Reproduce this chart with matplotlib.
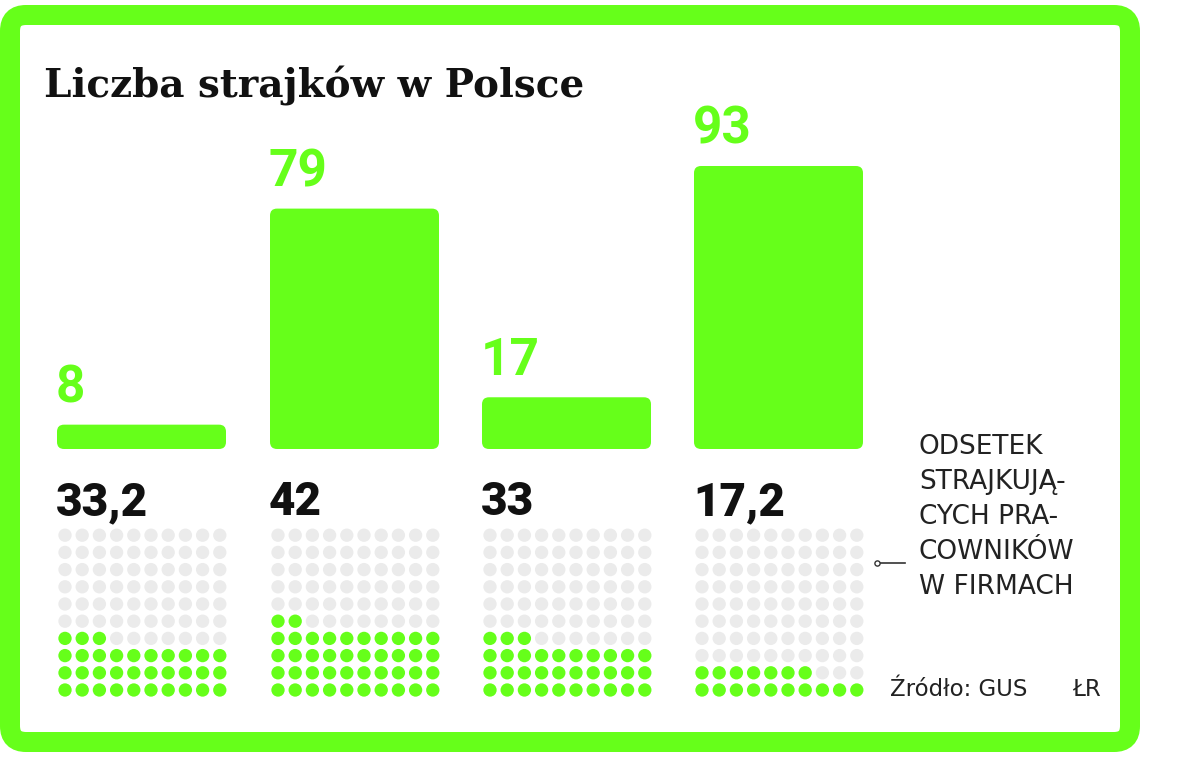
import matplotlib
matplotlib.use("Agg")
import matplotlib.pyplot as plt
from matplotlib.patches import FancyBboxPatch
import numpy as np

# data
strikes = [8, 79, 17, 93]
strike_labels = ["8", "79", "17", "93"]
share = [33.2, 42, 33, 17.2]
share_labels = ["33,2", "42", "33", "17,2"]

title = "Liczba strajków w Polsce"
note_lines = ["ODSETEK", "STRAJKUJĄ-", "CYCH PRA-", "COWNIKÓW", "W FIRMACH"]
source = "Źródło: GUS"
author = "ŁR"

GREEN = "#66ff1a"
GREY = "#ebebeb"
W, H = 1200, 760

fig = plt.figure(figsize=(12, 7.6), dpi=100)
fig.patch.set_facecolor("white")

# background axes in pixel coordinates
bg = fig.add_axes([0, 0, 1, 1])
bg.set_xlim(0, W)
bg.set_ylim(H, 0)
bg.axis("off")

frame = FancyBboxPatch((10, 15), 1120, 727, boxstyle="round,pad=0,rounding_size=16",
                       facecolor="white", edgecolor=GREEN, linewidth=14.4)
bg.add_patch(frame)

bg.text(44, 97, title, fontsize=28, fontweight="bold", family="DejaVu Serif",
        color="#111111", va="baseline", ha="left")

# bar axes: x in pixels, y in strike counts, base at y=449px, 93 at y=166px
bar_left = [57, 270, 482, 694]
bar_w = 169
base_px, top_px = 449, 166
ax = fig.add_axes([0, 1 - base_px / H, 1, (base_px - top_px) / H])
ax.set_xlim(0, W)
ax.set_ylim(0, max(strikes))
ax.axis("off")
px_per_unit = (base_px - top_px) / max(strikes)

bars = ax.bar(bar_left, strikes, width=bar_w, align="edge", color=GREEN)
for b in bars:
    b.set_visible(False)
    rb = FancyBboxPatch((b.get_x(), 0), b.get_width(), b.get_height(),
                        boxstyle="round,pad=0,rounding_size=7",
                        mutation_aspect=1 / px_per_unit,
                        facecolor=GREEN, edgecolor="none", clip_on=False)
    ax.add_patch(rb)

for x, v, lab in zip(bar_left, strikes, strike_labels):
    ax.annotate(lab, (x, v), xytext=(-1, 8), textcoords="offset points",
                ha="left", va="bottom", fontsize=37, fontweight="bold",
                family="Roboto", color=GREEN, annotation_clip=False)

# share labels and dot grids
for x, v, lab in zip(bar_left, share, share_labels):
    bg.text(x - 1, 515, lab, fontsize=33, fontweight="black", family="Roboto",
            color="#111111", ha="left", va="baseline")
    n = int(round(v))
    cols, rows = np.meshgrid(np.arange(10), np.arange(10))
    cols = cols.ravel()
    rows = rows.ravel()  # row 0 = bottom
    idx = rows * 10 + cols
    xs = x + 8 + cols * 17.2
    ys = 690 - rows * 17.2
    colors = [GREEN if i < n else GREY for i in idx]
    bg.scatter(xs, ys, s=92, c=colors, linewidths=0, zorder=3)

# note text with leader
for i, line in enumerate(note_lines):
    bg.text(919, 447 + i * 35, line, fontsize=19, family="DejaVu Sans",
            color="#222222", ha="left", va="center")
bg.plot([877, 905], [563, 563], color="#333333", lw=1.2)
bg.scatter([877], [563], s=14, facecolor="white", edgecolor="#333333", lw=1, zorder=4)

bg.text(890, 689, source, fontsize=16.5, family="DejaVu Sans", color="#222222",
        ha="left", va="center")
bg.text(1072, 689, author, fontsize=16.5, family="DejaVu Sans", color="#222222",
        ha="left", va="center")

fig.savefig("out.png", dpi=100, facecolor="white")
